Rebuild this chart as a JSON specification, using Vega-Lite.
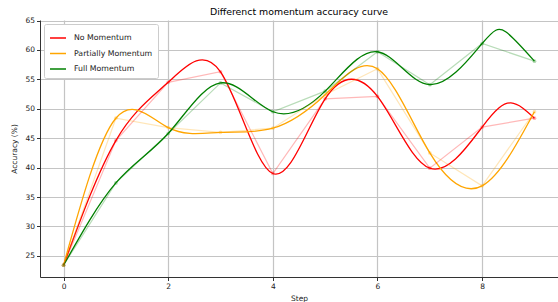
{
  "$schema": "https://vega.github.io/schema/vega-lite/v6.json",
  "width": 518,
  "height": 257,
  "autosize": {"type": "none"},
  "padding": {"left": 40, "top": 20, "right": 0, "bottom": 25},
  "background": "white",
  "title": {"text": "Differenct momentum accuracy curve", "fontSize": 9.4, "fontWeight": "normal", "font": "DejaVu Sans", "color": "#000", "offset": -1, "anchor": "middle"},
  "config": {
    "view": {"stroke": null},
    "axis": {"labelFont": "DejaVu Sans", "titleFont": "DejaVu Sans", "labelFontSize": 7.5, "titleFontSize": 7.5, "titleFontWeight": "normal", "labelColor": "#222", "titleColor": "#222", "gridColor": "#c4c4c4", "gridWidth": 1.2, "domainColor": "#333", "domainWidth": 1, "tickColor": "#333", "tickSize": 3.5}
  },
  "datasets": {
    "raw": [
      {"step": 0, "series": "No Momentum", "acc": 23.4},
      {"step": 1, "series": "No Momentum", "acc": 44.6},
      {"step": 2, "series": "No Momentum", "acc": 54.5},
      {"step": 3, "series": "No Momentum", "acc": 56.3},
      {"step": 4, "series": "No Momentum", "acc": 39.0},
      {"step": 5, "series": "No Momentum", "acc": 51.7},
      {"step": 6, "series": "No Momentum", "acc": 52.1},
      {"step": 7, "series": "No Momentum", "acc": 39.9},
      {"step": 8, "series": "No Momentum", "acc": 46.9},
      {"step": 9, "series": "No Momentum", "acc": 48.4},
      {"step": 0, "series": "Partially Momentum", "acc": 23.4},
      {"step": 1, "series": "Partially Momentum", "acc": 48.4},
      {"step": 2, "series": "Partially Momentum", "acc": 46.8},
      {"step": 3, "series": "Partially Momentum", "acc": 46.0},
      {"step": 4, "series": "Partially Momentum", "acc": 46.7},
      {"step": 5, "series": "Partially Momentum", "acc": 52.4},
      {"step": 6, "series": "Partially Momentum", "acc": 56.8},
      {"step": 7, "series": "Partially Momentum", "acc": 42.5},
      {"step": 8, "series": "Partially Momentum", "acc": 36.9},
      {"step": 9, "series": "Partially Momentum", "acc": 49.5},
      {"step": 0, "series": "Full Momentum", "acc": 23.4},
      {"step": 1, "series": "Full Momentum", "acc": 37.4},
      {"step": 2, "series": "Full Momentum", "acc": 45.8},
      {"step": 3, "series": "Full Momentum", "acc": 54.4},
      {"step": 4, "series": "Full Momentum", "acc": 49.5},
      {"step": 5, "series": "Full Momentum", "acc": 53.0},
      {"step": 6, "series": "Full Momentum", "acc": 59.7},
      {"step": 7, "series": "Full Momentum", "acc": 54.1},
      {"step": 8, "series": "Full Momentum", "acc": 61.1},
      {"step": 9, "series": "Full Momentum", "acc": 58.1}
    ],
    "curve": [
      {"step": 0, "series": "No Momentum", "acc": 23.4},
      {"step": 1, "series": "No Momentum", "acc": 44.6},
      {"step": 2, "series": "No Momentum", "acc": 54.5},
      {"step": 3, "series": "No Momentum", "acc": 56.3},
      {"step": 4, "series": "No Momentum", "acc": 39.0},
      {"step": 5, "series": "No Momentum", "acc": 51.7},
      {"step": 6, "series": "No Momentum", "acc": 52.1},
      {"step": 7, "series": "No Momentum", "acc": 39.9},
      {"step": 8, "series": "No Momentum", "acc": 46.9},
      {"step": 8.55, "series": "No Momentum", "acc": 51.0},
      {"step": 9, "series": "No Momentum", "acc": 48.4},
      {"step": 0, "series": "Partially Momentum", "acc": 23.4},
      {"step": 1, "series": "Partially Momentum", "acc": 48.4},
      {"step": 2, "series": "Partially Momentum", "acc": 46.8},
      {"step": 3, "series": "Partially Momentum", "acc": 46.0},
      {"step": 4, "series": "Partially Momentum", "acc": 46.7},
      {"step": 5, "series": "Partially Momentum", "acc": 52.4},
      {"step": 6, "series": "Partially Momentum", "acc": 56.8},
      {"step": 7, "series": "Partially Momentum", "acc": 42.5},
      {"step": 8, "series": "Partially Momentum", "acc": 36.9},
      {"step": 9, "series": "Partially Momentum", "acc": 49.5},
      {"step": 0, "series": "Full Momentum", "acc": 23.4},
      {"step": 1, "series": "Full Momentum", "acc": 37.4},
      {"step": 2, "series": "Full Momentum", "acc": 45.8},
      {"step": 3, "series": "Full Momentum", "acc": 54.4},
      {"step": 4, "series": "Full Momentum", "acc": 49.5},
      {"step": 5, "series": "Full Momentum", "acc": 53.0},
      {"step": 6, "series": "Full Momentum", "acc": 59.7},
      {"step": 7, "series": "Full Momentum", "acc": 54.1},
      {"step": 8, "series": "Full Momentum", "acc": 61.1},
      {"step": 8.45, "series": "Full Momentum", "acc": 63.1},
      {"step": 9, "series": "Full Momentum", "acc": 58.1}
    ]
  },
  "encoding": {
    "x": {"field": "step", "type": "quantitative", "title": "Step", "scale": {"domain": [-0.45, 9.45], "nice": false, "zero": false}, "axis": {"values": [0, 2, 4, 6, 8], "labelFlush": false, "titlePadding": 4}},
    "y": {"field": "acc", "type": "quantitative", "title": "Accuracy (%)", "scale": {"domain": [21.4, 65.1], "nice": false, "zero": false}, "axis": {"values": [25, 30, 35, 40, 45, 50, 55, 60, 65], "labelFlush": false, "titlePadding": 6}},
    "color": {"field": "series", "type": "nominal", "scale": {"domain": ["No Momentum", "Partially Momentum", "Full Momentum"], "range": ["#ff0000", "#ffa500", "#008000"]},
      "legend": {"title": null, "orient": "top-left", "offset": 4, "symbolType": "stroke", "symbolSize": 256, "symbolStrokeWidth": 1.5, "symbolOpacity": 1, "labelFont": "DejaVu Sans", "labelFontSize": 7.8, "labelColor": "#222", "rowPadding": 2.5, "fillColor": "white", "strokeColor": "#ccc", "cornerRadius": 2, "padding": 5, "labelOffset": 7}}
  },
  "layer": [
    {"data": {"name": "curve"}, "mark": {"type": "line", "strokeWidth": 1.3, "interpolate": "natural"}},
    {"data": {"name": "raw"}, "mark": {"type": "line", "strokeWidth": 1.2, "opacity": 0.28}},
    {"data": {"name": "raw"}, "mark": {"type": "point", "filled": true, "size": 14, "opacity": 0.3, "shape": "circle"}}
  ]
}
